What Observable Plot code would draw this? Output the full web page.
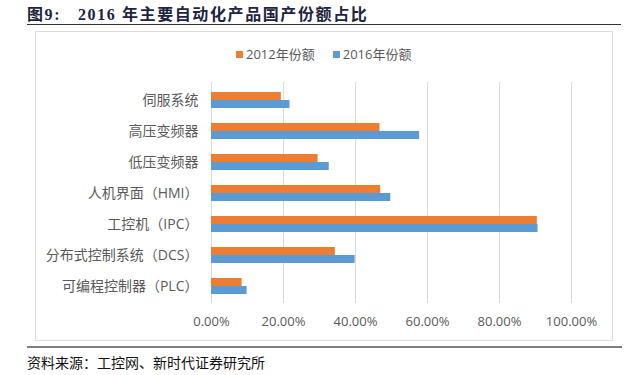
<!DOCTYPE html>
<html><head><meta charset="utf-8">
<script src="https://cdn.jsdelivr.net/npm/d3@7"></script>
<script src="https://cdn.jsdelivr.net/npm/@observablehq/plot@0.6"></script>
<style>
html,body{margin:0;padding:0;background:#fff;}
#wrap{position:relative;width:640px;height:375px;overflow:hidden;font-family:"Noto Sans CJK SC","Noto Sans",sans-serif;}
#title{position:absolute;left:27px;top:1px;font-family:"Liberation Serif","Noto Sans CJK SC",serif;font-weight:bold;font-size:16px;letter-spacing:1.6px;color:#1d2440;white-space:pre;}
#tline{position:absolute;left:27px;top:24px;width:594px;height:0;border-top:1.5px solid #333;}
#box{position:absolute;left:35px;top:31px;width:576px;height:308px;border:1px solid #dcdcdc;}
#legend{position:absolute;top:44px;left:236px;font-size:13px;color:#595959;display:flex;gap:18px;font-family:"Open Sans","Noto Sans CJK SC",sans-serif;}
#legend span.sw{display:inline-block;width:7px;height:7px;margin-right:3px;vertical-align:1px;}
#chart{position:absolute;left:0;top:0;}
#fline{position:absolute;left:27px;top:346px;width:595px;height:0;border-top:2.5px solid #7f7f7f;}
#source{position:absolute;left:27px;top:352px;font-size:14px;color:#111;font-family:"Noto Sans CJK SC",serif;}
</style></head>
<body>
<div id="wrap">
  <div id="title">图9:   2016 年主要自动化产品国产份额占比</div>
  <div id="tline"></div>
  <div id="box"></div>
  <div id="chart"></div>
  <div id="legend"></div>
  <div id="fline"></div>
  <div id="source">资料来源：工控网、新时代证券研究所</div>
</div>
<script>
const categories = ["伺服系统","高压变频器","低压变频器","人机界面（HMI）","工控机（IPC）","分布式控制系统（DCS）","可编程控制器（PLC）"];
const share2012 = [19.4, 46.8, 29.6, 47.0, 90.5, 34.4, 8.5];
const share2016 = [21.8, 57.8, 32.7, 49.8, 90.7, 39.9, 9.9];
const seriesNames = ["2012年份额","2016年份额"];
const seriesColors = ["#ED7D31","#5B9BD5"];
const xTicks = [0, 20, 40, 60, 80, 100];

const d12 = categories.map((c,i)=>({cat:c, v:share2012[i]}));
const d16 = categories.map((c,i)=>({cat:c, v:share2016[i]}));

const chart = Plot.plot({
  width: 640, height: 340,
  marginLeft: 211, marginRight: 69, marginTop: 82, marginBottom: 37,
  style: {fontSize: "13px", color: "#595959", fontFamily: "'Open Sans','Noto Sans CJK SC',sans-serif", background: "transparent"},
  x: {domain: [0, 100], ticks: xTicks, tickFormat: d => d.toFixed(2) + "%", tickSize: 0, tickPadding: 13, label: null},
  y: {domain: categories, paddingInner: 0.487, paddingOuter: 0.289, tickSize: 0, tickPadding: 13, label: null},
  marks: [
    Plot.ruleX(xTicks, {stroke: "#d9d9d9", strokeWidth: 1}),
    Plot.barX(d12, {x: "v", y: "cat", fill: seriesColors[0], insetBottom: 8}),
    Plot.barX(d16, {x: "v", y: "cat", fill: seriesColors[1], insetTop: 8})
  ]
});
chart.querySelectorAll("text").forEach(t => t.style.fontSize = "13px");
chart.querySelectorAll("[aria-label='y-axis tick label'] text").forEach(t => t.style.fontSize = "14px");
document.getElementById("chart").appendChild(chart);

const lg = document.getElementById("legend");
seriesNames.forEach((n,i)=>{
  const s = document.createElement("div");
  s.innerHTML = `<span class="sw" style="background:${seriesColors[i]}"></span>${n}`;
  lg.appendChild(s);
});
</script>
</body></html>
